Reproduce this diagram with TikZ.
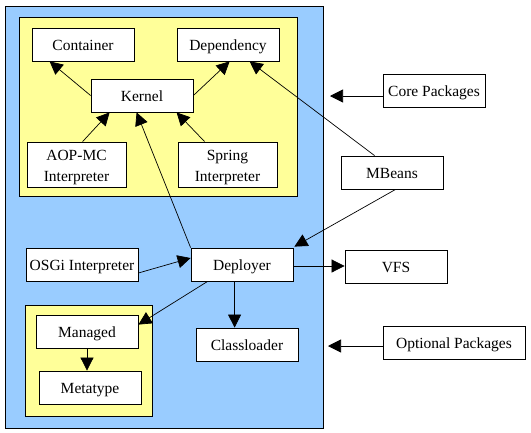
\documentclass[tikz,border=0pt]{standalone}
\usepackage{fontspec}
\setmainfont{Liberation Serif}
\usetikzlibrary{arrows.meta}
\definecolor{outerblue}{HTML}{99CCFF}
\definecolor{paleyellow}{HTML}{FFFF99}
\newcommand{\topstrut}{\rule{0pt}{16pt}}
\begin{document}
\begin{tikzpicture}[x=1pt,y=-1pt,
  basebox/.style={draw=black,fill=white,line width=0.8pt,minimum width=102pt,minimum height=33pt,inner sep=0pt,align=center,font=\fontsize{15.5}{21.7}\selectfont},
  box/.style={basebox,text height=12.5pt,text depth=0pt},
  twoline/.style={basebox,minimum width=99pt,minimum height=45pt},
  conn/.style={draw=black,line width=0.7pt,-{Triangle[length=13pt,width=13pt]}},
  panel/.style={draw=black,line width=0.8pt}
]
\useasboundingbox (0,0) rectangle (531,432);
\fill[white] (0,0) rectangle (531,432);
% containers
\draw[panel,fill=outerblue] (5,6) rectangle (323,428);
\draw[panel,fill=paleyellow] (19,17) rectangle (297,196);
\draw[panel,fill=paleyellow] (25,305) rectangle (152,416);
% nodes
\node[box] (container) at (83,44.5) {Container};
\node[box] (dependency) at (228,44.5) {Dependency};
\node[box] (kernel) at (142,95.5) {Kernel};
\node[twoline] (aop) at (76.5,164.5) {\topstrut AOP-MC\\Interpreter};
\node[twoline] (spring) at (227.5,164.5) {\topstrut Spring\\Interpreter};
\node[box] (deployer) at (242,264.5) {Deployer};
\node[box,minimum width=112pt] (osgi) at (82,264.5) {OSGi Interpreter};
\node[box] (managed) at (87,331.5) {Managed};
\node[box] (metatype) at (90,387.5) {Metatype};
\node[box] (classloader) at (247,344.5) {Classloader};
\node[box] (core) at (434,90.5) {Core Packages};
\node[box] (mbeans) at (392,172.5) {MBeans};
\node[box] (vfs) at (396,266.5) {VFS};
\node[box,minimum width=142pt] (optional) at (454,342.5) {Optional Packages};
\coordinate (coretip) at (330,96);
\coordinate (opttip) at (328,346);
% connectors
\draw[conn] (kernel.west) -- ([xshift=18pt]container.south west);
\draw[conn] (kernel.east) -- ([xshift=53pt]dependency.south west);
\draw[conn] ([xshift=56pt]aop.north west) -- ([xshift=19pt]kernel.south west);
\draw[conn] ([xshift=27pt]spring.north west) -- ([xshift=86pt]kernel.south west);
\draw[conn] (deployer.north west) -- ([xshift=46pt]kernel.south west);
\draw[conn] ([xshift=34pt]mbeans.north west) -- ([xshift=73pt]dependency.south west);
\draw[conn] ([xshift=55pt]mbeans.south west) -- ([xshift=1pt,yshift=1pt]deployer.north east);
\draw[conn] ([yshift=-1.5pt]deployer.east) -- ([yshift=0.5pt]vfs.west);
\draw[conn] ([yshift=-8.5pt]osgi.east) -- ([yshift=6.5pt]deployer.west);
\draw[conn] ([xshift=17pt]deployer.south west) -- ([yshift=-10pt]managed.north east);
\draw[conn] ([xshift=44pt]deployer.south west) -- ([xshift=39pt]classloader.north west);
\draw[conn] (managed.south) -- (managed.south |- metatype.north);
\draw[conn] (core.west |- coretip) -- (coretip);
\draw[conn] (optional.west |- opttip) -- (opttip);
\end{tikzpicture}
\end{document}
